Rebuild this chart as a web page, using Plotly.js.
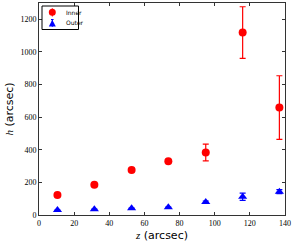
<!DOCTYPE html>
<html><head><meta charset="utf-8">
<script src="https://cdn.plot.ly/plotly-3.0.1.min.js"></script>
<style>html,body{margin:0;padding:0;background:#fff}</style>
</head><body>
<div id="chart" style="width:295px;height:245px"></div>
<script>
const zValues = [10.5, 31.5, 52.7, 73.6, 94.9, 115.9, 136.8];
const innerH = [123, 186, 276, 329, 383, 1119, 659];
const innerErr = [0, 0, 0, 0, 51, 158, 195];
const outerH = [30, 36, 42, 48, 80, 112, 143];
const outerErr = [0, 0, 0, 0, 6, 22, 12];
const xTicks = [0, 20, 40, 60, 80, 100, 120, 140];
const yTicks = [0, 200, 400, 600, 800, 1000, 1200];
const seriesNames = ['Inner', 'Outer'];
const seriesColors = ['#ff0000', '#0000ff'];

const M = {l: 39, r: 10, t: 3, b: 30};
const W = 295, H = 245;
const pw = W - M.l - M.r, ph = H - M.t - M.b;
const px = x => (x - M.l) / pw;
const py = y => (H - M.b - y) / ph;

const traces = [
  {x: zValues, y: innerH, name: seriesNames[0], mode: 'markers', type: 'scatter',
   marker: {color: seriesColors[0], size: 8, symbol: 'circle'},
   error_y: {type: 'data', array: innerErr, visible: true, color: seriesColors[0], thickness: 1.2, width: 3}},
  {x: zValues, y: outerH, name: seriesNames[1], mode: 'markers', type: 'scatter',
   marker: {color: seriesColors[1], size: 8, symbol: 'triangle-up'},
   error_y: {type: 'data', array: outerErr, visible: true, color: seriesColors[1], thickness: 1.2, width: 3}}
];

// custom compact legend (matplotlib style)
const shapes = [
  {type: 'rect', xref: 'paper', yref: 'paper', x0: px(42), x1: px(78.5), y0: py(29.5), y1: py(6),
   line: {color: '#000', width: 1}, fillcolor: '#fff', layer: 'above'},
  {type: 'line', xref: 'paper', yref: 'paper', x0: px(52.3), x1: px(52.3), y0: py(16.5), y1: py(8.3), line: {color: seriesColors[0], width: 1}, layer: 'above'},
  {type: 'circle', xref: 'paper', yref: 'paper', x0: px(48.8), x1: px(55.8), y0: py(15.8), y1: py(8.8), line: {color: seriesColors[0], width: 0}, fillcolor: seriesColors[0], layer: 'above'},
  {type: 'line', xref: 'paper', yref: 'paper', x0: px(52.3), x1: px(52.3), y0: py(26.8), y1: py(19.5), line: {color: seriesColors[1], width: 1}, layer: 'above'},
  {type: 'line', xref: 'paper', yref: 'paper', x0: px(51), x1: px(53.6), y0: py(19.5), y1: py(19.5), line: {color: seriesColors[1], width: 1}, layer: 'above'},
  {type: 'path', xref: 'paper', yref: 'paper',
   path: `M ${px(48.8)} ${py(26.5)} L ${px(55.8)} ${py(26.5)} L ${px(52.3)} ${py(19.8)} Z`,
   line: {color: seriesColors[1], width: 0}, fillcolor: seriesColors[1], layer: 'above'}
];
const annotations = [
  {xref: 'paper', yref: 'paper', x: px(63.5), y: py(12.3), text: seriesNames[0], showarrow: false, xanchor: 'left', yanchor: 'middle',
   font: {family: 'DejaVu Sans, sans-serif', size: 6, color: '#000'}},
  {xref: 'paper', yref: 'paper', x: px(63.5), y: py(23), text: seriesNames[1], showarrow: false, xanchor: 'left', yanchor: 'middle',
   font: {family: 'DejaVu Sans, sans-serif', size: 6, color: '#000'}}
];

const axisCommon = {showgrid: false, zeroline: false, showline: true, linecolor: '#333', linewidth: 1,
  mirror: 'ticks', ticks: 'inside', ticklen: 3, tickcolor: '#333',
  tickfont: {family: 'Liberation Serif, serif', size: 8, color: '#000'}};
const layout = {
  width: W, height: H, margin: M,
  paper_bgcolor: '#fff', plot_bgcolor: '#fff', showlegend: false,
  xaxis: Object.assign({}, axisCommon, {range: [0, 140], tickvals: xTicks,
    title: {text: "<span style='font-family:Liberation Serif'><i>z</i></span> (arcsec)", font: {family: 'DejaVu Sans, sans-serif', size: 11, color: '#000'}, standoff: 4}}),
  yaxis: Object.assign({}, axisCommon, {range: [0, 1300], tickvals: yTicks,
    title: {text: "<span style='font-family:Liberation Serif'><i>h</i></span> (arcsec)", font: {family: 'DejaVu Sans, sans-serif', size: 11, color: '#000'}, standoff: 4}}),
  shapes: shapes, annotations: annotations
};
Plotly.newPlot('chart', traces, layout, {displayModeBar: false, staticPlot: true});
</script>
</body></html>
